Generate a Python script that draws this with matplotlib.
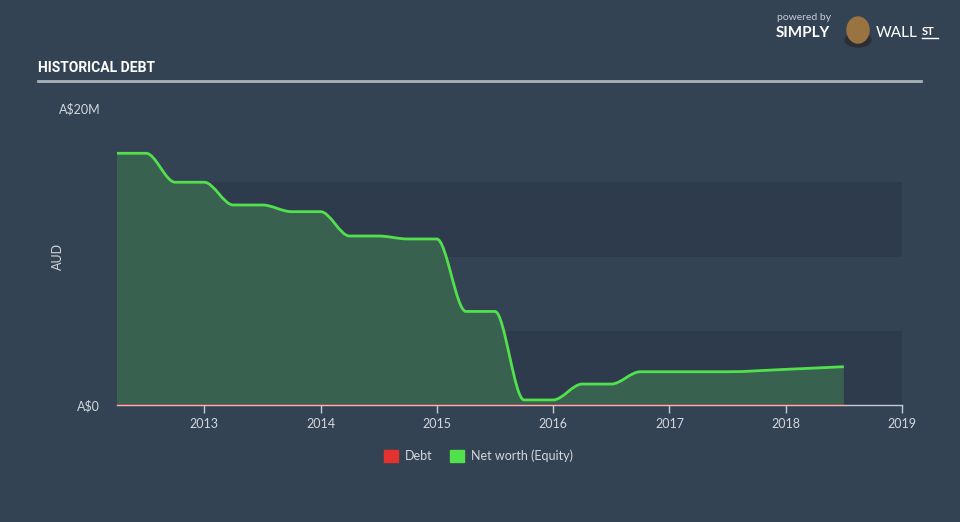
import numpy as np
import matplotlib
matplotlib.use("Agg")
from matplotlib import pyplot as plt
from matplotlib.path import Path
from matplotlib.patches import PathPatch, Rectangle, Ellipse

# data (dates as decimal years, values in A$ millions)
dates = [2012.25, 2012.5, 2012.75, 2013.0, 2013.25, 2013.5, 2013.75, 2014.0,
         2014.25, 2014.5, 2014.75, 2015.0, 2015.25, 2015.5, 2015.75, 2016.0,
         2016.25, 2016.5, 2016.75, 2017.5, 2018.0, 2018.5]
equity = [16.95, 16.95, 15.0, 15.0, 13.47, 13.47, 13.02, 13.02,
          11.38, 11.38, 11.18, 11.18, 6.30, 6.30, 0.34, 0.34,
          1.41, 1.41, 2.24, 2.24, 2.40, 2.58]
debt = [0.0] * len(dates)
year_ticks = [2013, 2014, 2015, 2016, 2017, 2018, 2019]
legend_labels = ['Debt', 'Net worth (Equity)']

BG = '#344354'
DARK_BAND = '#2e3b4c'
GREEN = '#52e04c'
FILL = '#39614f'
RED = '#e5322d'
TXT = '#d3d7dd'

plt.rcParams['font.family'] = ['Lato', 'DejaVu Sans']


def monotone_path(x, y):
    # cubic bezier path with monotone-x tangents (like d3.curveMonotoneX)
    x = np.asarray(x, float)
    y = np.asarray(y, float)
    n = len(x)
    h = np.diff(x)
    s = np.diff(y) / h
    t = np.zeros(n)
    for i in range(1, n - 1):
        p = (s[i - 1] * h[i] + s[i] * h[i - 1]) / (h[i - 1] + h[i])
        t[i] = (np.sign(s[i - 1]) + np.sign(s[i])) * min(abs(s[i - 1]), abs(s[i]), 0.5 * abs(p))
    t[0] = (3 * s[0] - t[1]) / 2
    t[-1] = (3 * s[-1] - t[-2]) / 2
    verts = [(x[0], y[0])]
    codes = [Path.MOVETO]
    for i in range(n - 1):
        dx = h[i] / 3
        verts += [(x[i] + dx, y[i] + t[i] * dx),
                  (x[i + 1] - dx, y[i + 1] - t[i + 1] * dx),
                  (x[i + 1], y[i + 1])]
        codes += [Path.CURVE4] * 3
    return verts, codes


fig = plt.figure(figsize=(9.6, 5.22), dpi=100, facecolor=BG)
ax = fig.add_axes([117 / 960, 1 - 405 / 522, (902 - 117) / 960, 297 / 522])
ax.set_facecolor(BG)

# background bands
for lo, col in [(0, DARK_BAND), (5, BG), (10, DARK_BAND), (15, BG)]:
    ax.axhspan(lo, lo + 5, color=col, lw=0, zorder=0)

verts, codes = monotone_path(dates, equity)
fill_verts = verts + [(dates[-1], 0), (dates[0], 0), (dates[0], equity[0])]
fill_codes = codes + [Path.LINETO, Path.LINETO, Path.CLOSEPOLY]
ax.add_patch(PathPatch(Path(fill_verts, fill_codes), facecolor=FILL, edgecolor='none', zorder=1))
ax.add_patch(PathPatch(Path(verts, codes), facecolor='none', edgecolor=GREEN, lw=2, zorder=3))
ax.plot(dates, debt, color=RED, lw=1.2, zorder=4)

ax.set_xlim(dates[0], 2019)
ax.set_ylim(0, 20)
for sp in ['top', 'right', 'left']:
    ax.spines[sp].set_visible(False)
ax.spines['bottom'].set_color('#c5cbd3')
ax.spines['bottom'].set_linewidth(1)
ax.set_xticks(year_ticks)
ax.set_xticklabels([str(y) for y in year_ticks])
ax.tick_params(axis='x', colors='#c5cbd3', labelcolor=TXT, labelsize=9, length=6, width=1, pad=3)
ax.set_yticks([0, 20])
ax.set_yticklabels(['A$0', 'A$20M'])
ax.tick_params(axis='y', length=0, labelcolor=TXT, labelsize=9, pad=12)
ax.set_ylabel('AUD', color=TXT, fontsize=9)
ax.yaxis.set_label_coords((64 - 117) / 785, 0.5)

# title and rule
fig.text(38 / 960, 1 - 68 / 522, 'HISTORICAL DEBT', color='white', fontsize=10,
         fontweight='bold', family=['Roboto', 'DejaVu Sans'], va='center', ha='left')
fig.add_artist(plt.Line2D([38 / 960, 921 / 960], [1 - 81 / 522, 1 - 81 / 522],
                          color='#a9b0b8', lw=2))

# logo text
fig.text(777 / 960, 1 - 18 / 522, 'powered by', color='#c8ccd2', fontsize=7.5, va='center')
fig.text(776 / 960, 1 - 33 / 522, 'SIMPLY', color='white', fontsize=11, fontweight='bold', va='center')
fig.text(876 / 960, 1 - 33 / 522, 'WALL', color='white', fontsize=11, va='center')
fig.text(922 / 960, 1 - 31 / 522, 'ST', color='white', fontsize=8, fontweight='bold',
         va='center')
fig.add_artist(plt.Line2D([922 / 960, 938 / 960], [1 - 38 / 522, 1 - 38 / 522], color='white', lw=1))
fig.add_artist(Ellipse((858 / 960, 1 - 30 / 522), 22 / 960, 26 / 522, transform=fig.transFigure,
                       color='#9a7440', zorder=5))
fig.add_artist(Ellipse((858 / 960, 1 - 40 / 522), 26 / 960, 14 / 522, transform=fig.transFigure,
                       color='#2b2f35', zorder=4))

# legend
for xs, col, lab in [(384, RED, legend_labels[0]), (450, GREEN, legend_labels[1])]:
    fig.add_artist(Rectangle((xs / 960, 1 - 462 / 522), 14 / 960, 12 / 522,
                             transform=fig.transFigure, color=col))
    fig.text((xs + 21) / 960, 1 - 456 / 522, lab, color=TXT, fontsize=9, va='center')

fig.savefig('out.png', dpi=100, facecolor=BG)
